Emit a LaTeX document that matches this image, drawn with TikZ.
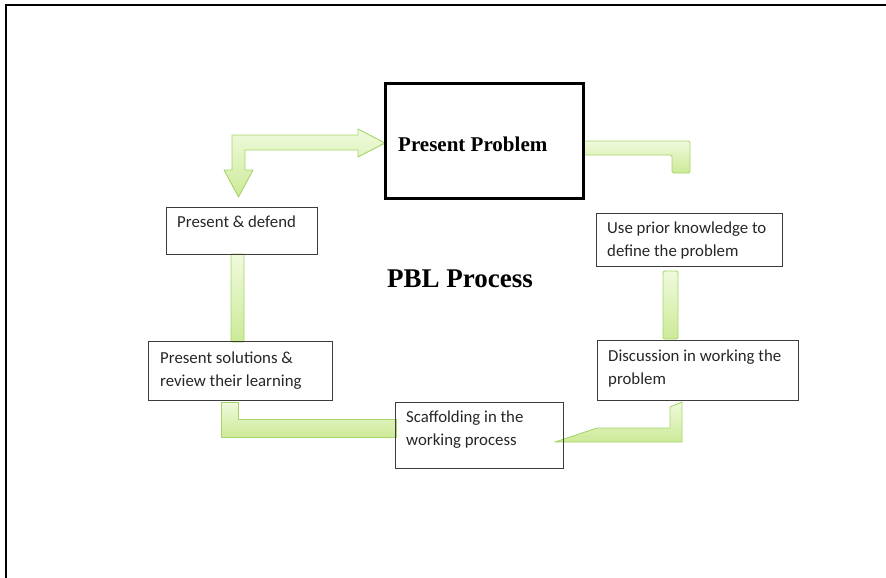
\documentclass[tikz,border=0pt]{standalone}
\usepackage{fontspec}
\setmainfont{Liberation Serif}
\newfontfamily\boxfont{Carlito}

\definecolor{boxline}{HTML}{3C3C3C}
\definecolor{boxtext}{HTML}{262626}
\definecolor{limeedge}{HTML}{A6D468}
\definecolor{limetop}{HTML}{EFFADD}
\definecolor{limebot}{HTML}{CCEA97}

\tikzset{
  stage/.style={draw=boxline, line width=1.1pt, rectangle, inner sep=0pt, anchor=north west},
  % base west of a multi-line node sits on its last line
  stagetext/.style={font=\boxfont\fontsize{16.8}{22.5}\selectfont, text=boxtext,
                    align=left, inner sep=0pt, anchor=base west},
  limearrow/.style={draw=limeedge, line width=0.9pt, line join=round,
                    top color=limetop, bottom color=limebot},
  framerule/.style={line width=2.5pt, line cap=rect}
}

\begin{document}
\begin{tikzpicture}[x=1pt, y=-1pt]
  \useasboundingbox (0,0) rectangle (886,578);

  % page frame (top and left rules)
  \draw[framerule] (6,578) -- (6,5) -- (886,5);

  % block connectors
  \draw[limearrow] (232,135) -- (358,135) -- (358,129) -- (385,143) -- (358,157)
        -- (358,150) -- (245,150) -- (245,170) -- (253,170) -- (238.5,197)
        -- (224,170) -- (232,170) -- cycle;
  \draw[limearrow, rounded corners=1.5pt] (583,141) -- (690,141) -- (690,173)
        -- (672,173) -- (672,155) -- (583,155) -- cycle;
  \draw[limearrow, rounded corners=2pt] (663,271) rectangle (678,339);
  \draw[limearrow] (670,407) -- (682,402) -- (682,442) -- (555,442)
        -- (597,428) -- (670,428) -- cycle;
  \draw[limearrow] (221,402) -- (238,402) -- (238,419) -- (396,419)
        -- (396,437) -- (221,437) -- cycle;
  \draw[limearrow, rounded corners=1pt] (231,254) rectangle (244,342);

  % central problem box
  \node[draw=black, line width=2.6pt, rectangle, inner sep=0pt, anchor=north west,
        minimum width=198pt, minimum height=115pt] (problem) at (384,82) {};
  \node[font=\bfseries\fontsize{21}{25}\selectfont, inner sep=0pt, anchor=base west]
        (problemtxt) at ([xshift=14pt, yshift=-69pt]problem.north west) {Present Problem};

  % title
  \node[font=\bfseries\fontsize{27}{32}\selectfont, inner sep=0pt, anchor=base west]
        (title) at (387,287) {PBL Process};

  % process stages
  \node[stage, minimum width=151pt, minimum height=47pt] (defend) at (166,207) {};
  \node[stagetext] (defendtxt) at ([xshift=11pt, yshift=-20pt]defend.north west)
        {Present \& defend};

  \node[stage, minimum width=186pt, minimum height=53pt] (prior) at (596,213) {};
  \node[stagetext] (priortxt) at ([xshift=11pt, yshift=-43pt]prior.north west)
        {Use prior knowledge to\\define the problem};

  \node[stage, minimum width=201pt, minimum height=60pt] (discuss) at (597,340) {};
  \node[stagetext] (discusstxt) at ([xshift=11pt, yshift=-44pt]discuss.north west)
        {Discussion in working the\\problem};

  \node[stage, minimum width=168pt, minimum height=66pt] (scaffold) at (395,402) {};
  \node[stagetext] (scaffoldtxt) at ([xshift=11pt, yshift=-43pt]scaffold.north west)
        {Scaffolding in the\\working process};

  \node[stage, minimum width=184pt, minimum height=59pt] (solutions) at (148,341) {};
  \node[stagetext] (solutionstxt) at ([xshift=12pt, yshift=-45pt]solutions.north west)
        {Present solutions \&\\review their learning};
\end{tikzpicture}
\end{document}
